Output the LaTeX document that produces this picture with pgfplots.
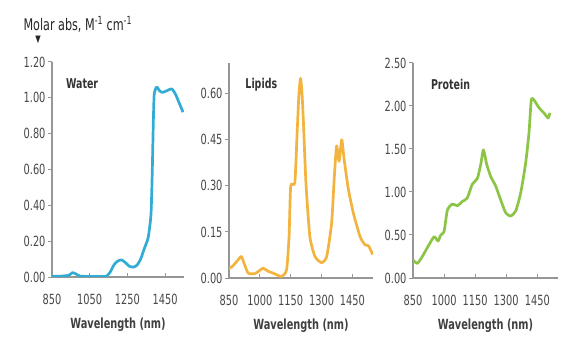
\documentclass[border=0pt]{standalone}
\usepackage{fontspec}
\setmainfont{DejaVu Sans}[FakeStretch=0.7]
\usepackage{pgfplots}
\pgfplotsset{compat=1.18}
\definecolor{axgray}{RGB}{150,150,150}
\definecolor{txtgray}{RGB}{72,72,72}
\definecolor{water}{RGB}{50,172,212}
\definecolor{lipid}{RGB}{242,180,62}
\definecolor{protein}{RGB}{140,196,70}
\pgfplotsset{panel/.style={
  scale only axis, height=215bp,
  axis x line=bottom, axis y line=left,
  axis line style={axgray, line width=1.3bp, -},
  xmin=850, xmax=1550, ymin=0,
  tick align=outside,
  major tick length=4bp,
  tick style={axgray, line width=1bp},
  x tick style={yshift=4bp},
  ticklabel style={font=\fontsize{14bp}{15bp}\selectfont, text=txtgray},
  xticklabel style={yshift=-10bp},
  yticklabel style={xshift=1bp},
  /pgf/number format/assume math mode=true,
  yticklabel style={/pgf/number format/.cd, fixed, fixed zerofill, precision=2},
  xticklabel style={/pgf/number format/.cd, fixed, 1000 sep={}},
  xlabel={Wavelength (nm)},
  xlabel style={font=\fontsize{14bp}{15bp}\selectfont\bfseries, text=black!75, yshift=-6bp},
  every axis plot/.append style={line width=2.7bp, line join=round, no markers, smooth, tension=0.35},
}}
\begin{document}
\begin{tikzpicture}
\useasboundingbox (0,0) rectangle (566bp,338bp);
\node[anchor=base west, font=\fontsize{16bp}{17bp}\selectfont, text=black!85] at (20bp,307bp) {Molar abs, M\textsuperscript{-1} cm\textsuperscript{-1}};
\node[font=\fontsize{10bp}{11bp}\selectfont, text=black!85] at (38bp,298bp) {▼};
% Water
\begin{axis}[panel, at={(52bp,61bp)}, anchor=south west, width=132bp,
  ymax=1.2, ytick={0,0.2,0.4,0.6,0.8,1.0,1.2}, xtick={850,1050,1250,1450}]
\addplot[water] coordinates {
(850,0.005) (900,0.005) (940,0.01) (960,0.025) (980,0.015) (1000,0.005) (1050,0.003)
(1100,0.003) (1140,0.005) (1160,0.03) (1180,0.07) (1200,0.09) (1220,0.095) (1240,0.08)
(1260,0.06) (1280,0.055) (1300,0.065) (1320,0.10) (1340,0.16) (1360,0.22) (1375,0.35)
(1382,0.60) (1387,0.85) (1392,1.02) (1405,1.06) (1420,1.04) (1435,1.03) (1460,1.04)
(1485,1.05) (1505,1.02) (1525,0.97) (1545,0.92)};
\node[anchor=west, font=\fontsize{13.5bp}{14bp}\selectfont\bfseries, text=black!80] at (rel axis cs:0.08,0.9) {Water};
\end{axis}
% Lipids
\begin{axis}[panel, at={(229bp,60bp)}, anchor=south west, width=144bp,
  ymax=0.70, ytick={0,0.15,0.30,0.45,0.60}, xtick={850,1000,1150,1300,1450}]
\addplot[lipid] coordinates {
(850,0.03) (870,0.04) (895,0.06) (910,0.07) (925,0.045) (943,0.016) (975,0.014) (1000,0.025)
(1016,0.032) (1040,0.022) (1064,0.016) (1105,0.005) (1130,0.027) (1142,0.135) (1150,0.30)
(1170,0.31) (1181,0.47) (1190,0.60) (1198,0.65) (1205,0.60) (1211,0.52) (1224,0.31) (1243,0.135)
(1268,0.07) (1300,0.05) (1325,0.07) (1349,0.18) (1362,0.33) (1373,0.43) (1385,0.38) (1398,0.45)
(1409,0.39) (1430,0.29) (1455,0.21) (1487,0.135) (1511,0.108) (1528,0.105) (1549,0.076)};
\node[anchor=west, font=\fontsize{13.5bp}{14bp}\selectfont\bfseries, text=black!80] at (rel axis cs:0.09,0.9) {Lipids};
\end{axis}
% Protein
\begin{axis}[panel, at={(413bp,60bp)}, anchor=south west, width=145bp,
  ymax=2.5, ytick={0,0.5,1.0,1.5,2.0,2.5}, xtick={850,1000,1150,1300,1450}]
\addplot[protein] coordinates {
(850,0.21) (871,0.17) (895,0.25) (928,0.39) (952,0.48) (971,0.43) (984,0.50) (1000,0.54)
(1016,0.79) (1040,0.86) (1064,0.84) (1088,0.89) (1112,0.93) (1136,1.09) (1161,1.16)
(1177,1.32) (1190,1.49) (1206,1.32) (1225,1.18) (1249,1.07) (1273,0.91) (1297,0.76)
(1321,0.72) (1346,0.78) (1370,0.99) (1394,1.34) (1410,1.69) (1421,2.07) (1434,2.07)
(1458,1.98) (1482,1.92) (1502,1.86) (1511,1.92)};
\node[anchor=west, font=\fontsize{13.5bp}{14bp}\selectfont\bfseries, text=black!80] at (rel axis cs:0.10,0.9) {Protein};
\end{axis}
\end{tikzpicture}
\end{document}
